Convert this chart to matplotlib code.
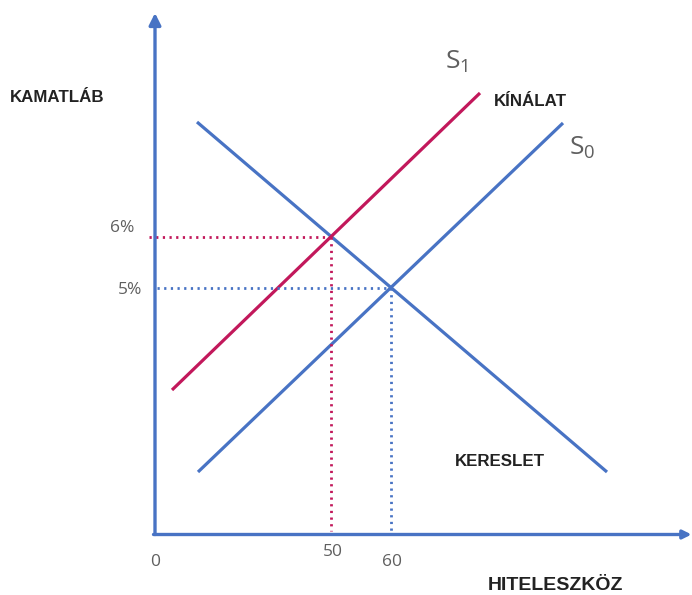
import numpy as np
import matplotlib.pyplot as plt

# schematic diagram units: origin at the axis corner
demand_x = [8.4, 90.4]
demand_y = [82.2, 12.2]
supply1_x = [3.4, 65.0]
supply1_y = [28.6, 88.0]
supply0_x = [8.6, 81.6]
supply0_y = [12.2, 82.0]

rate_labels = ["6%", "5%"]
qty_labels = ["50", "60"]

BLUE = "#4873c4"
RED = "#c2185b"
GRAY = "#5f5f5f"
DARK = "#222222"


def crossing(x1, y1, x2, y2):
    a1, b1 = np.polyfit(x1, y1, 1)
    a2, b2 = np.polyfit(x2, y2, 1)
    x = (b2 - b1) / (a1 - a2)
    return x, a1 * x + b1


fig = plt.figure(figsize=(6.92, 5.95), dpi=100)
ax = fig.add_axes([0, 0, 1, 1])
ax.set_xlim(-31, 107.4)
ax.set_ylim(-12.4, 106.6)
ax.axis("off")

# axes with arrows
ax.annotate("", xy=(0, 104), xytext=(0, -0.3),
            arrowprops=dict(arrowstyle="-|>,head_width=0.35,head_length=0.7",
                            color=BLUE, lw=2.4, shrinkA=0, shrinkB=0))
ax.annotate("", xy=(107.3, -0.3), xytext=(-0.3, -0.3), annotation_clip=False,
            arrowprops=dict(arrowstyle="-|>,head_width=0.25,head_length=0.5",
                            color=BLUE, lw=2.4, shrinkA=0, shrinkB=0))

ax.plot(demand_x, demand_y, color=BLUE, lw=2.3, solid_capstyle="butt")
ax.plot(supply0_x, supply0_y, color=BLUE, lw=2.3, solid_capstyle="butt")
ax.plot(supply1_x, supply1_y, color=RED, lw=2.3, solid_capstyle="butt")

e1 = crossing(demand_x, demand_y, supply1_x, supply1_y)
e0 = crossing(demand_x, demand_y, supply0_x, supply0_y)

dots = (0, (0.8, 1.6))
for (ex, ey), col, start in [(e1, RED, -1.3), (e0, BLUE, 0.4)]:
    ax.plot([start, ex], [ey, ey], color=col, lw=2.0, linestyle=dots)
    ax.plot([ex, ex], [ey, 0.5], color=col, lw=2.0, linestyle=dots)

# tick labels
num = dict(color=GRAY, fontsize=12.5, family="Open Sans", va="center")
ax.text(-4.2, e1[1] + 1.8, rate_labels[0], ha="right", **num)
ax.text(-2.6, e0[1] - 0.4, rate_labels[1], ha="right", **num)
ax.text(e1[0] + 0.3, -3.8, qty_labels[0], ha="center", **num)
ax.text(e0[0] + 0.3, -5.8, qty_labels[1], ha="center", **num)
ax.text(0, -5.8, "0", ha="center", **num)

# axis titles and curve names
bold = dict(color=DARK, fontsize=12.2, fontweight="bold",
            family="Liberation Sans", va="center")
ax.text(-29, 87.2, "KAMATLÁB", ha="left", **bold)
ax.text(67.8, 86.4, "KÍNÁLAT", ha="left", **bold)
ax.text(60.0, 14.2, "KERESLET", ha="left", **bold)
ax.text(66.6, -10.4, "HITELESZKÖZ", ha="left",
        **{**bold, "fontsize": 14})

ax.text(58.0, 94.2, r"$\mathregular{S_1}$", color=GRAY, fontsize=19,
        family="Open Sans", ha="left", va="center")
ax.text(82.8, 77.0, r"$\mathregular{S_0}$", color=GRAY, fontsize=19,
        family="Open Sans", ha="left", va="center")

fig.savefig("out.png", dpi=100)
